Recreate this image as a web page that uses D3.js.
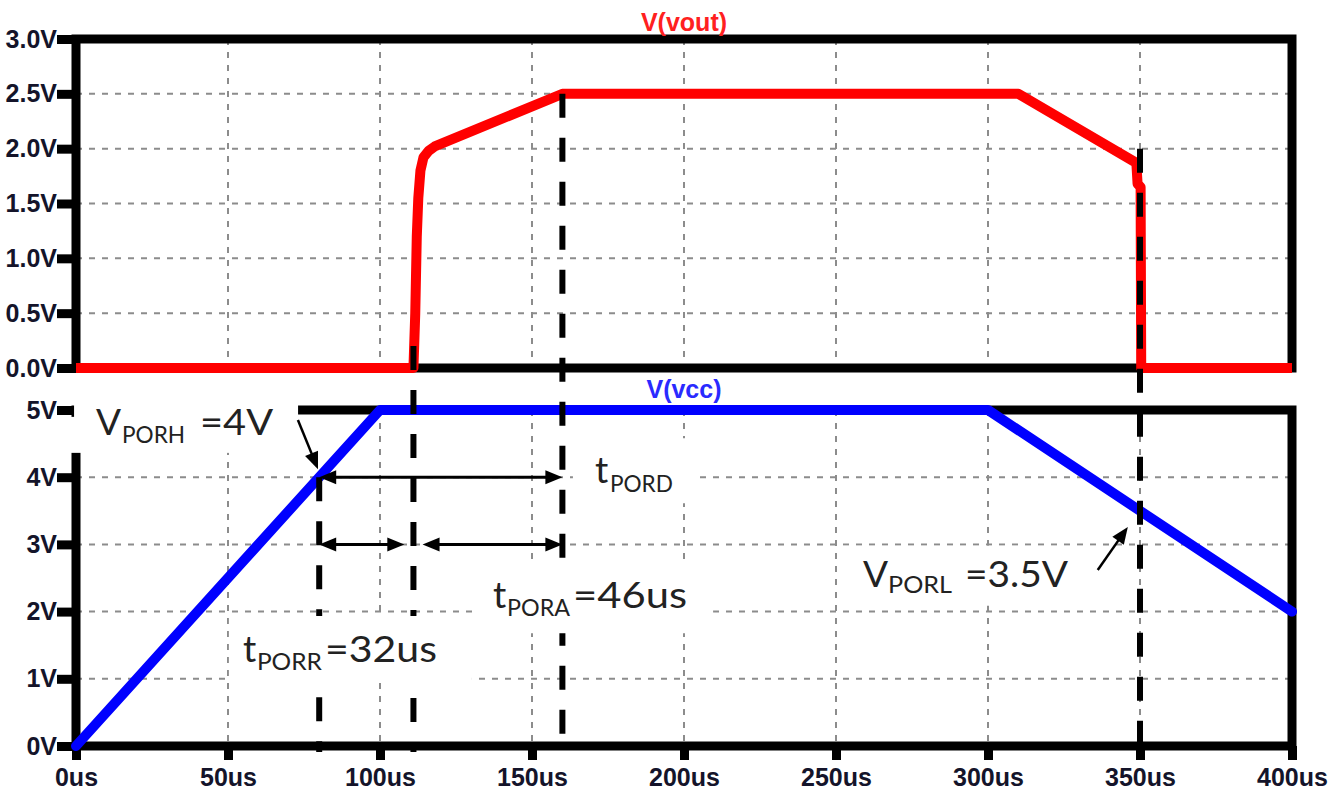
<!DOCTYPE html>
<html>
<head>
<meta charset="utf-8">
<script src="https://cdn.jsdelivr.net/npm/d3@7"></script>
<style>
  html, body { margin: 0; padding: 0; background: #ffffff; }
  svg { display: block; }
</style>
</head>
<body>
<svg id="chart" width="1343" height="795"></svg>
<script>
// ---- axis ticks ----
const timeTicks = [0, 50, 100, 150, 200, 250, 300, 350, 400];   // us
const voutTicks = [0, 0.5, 1, 1.5, 2, 2.5, 3];                   // V
const vccTicks  = [0, 1, 2, 3, 4, 5];                            // V

// ---- V(vout) waveform (time in us, level in V) ----
const voutTime = [0, 111, 111.6, 112.1, 112.6, 113.3, 114.3, 116, 118, 160, 310, 348.8, 349.2, 350.2, 350.4, 400];
const voutVolt = [0, 0,   0.5,   1.2,   1.55,  1.8,   1.92,  1.98, 2.02, 2.5, 2.5, 1.87, 1.68, 1.65, 0,    0];

// ---- V(vcc) supply ramp ----
const vccTime = [0, 100, 300, 400];
const vccVolt = [0, 5,   5,   2];

// ---- timing markers: time, panel where the marker starts, level it starts at ----
const markerTime   = [80,    111,   160,   350];
const markerPanel  = ["vcc", "vout", "vout", "vout"];
const markerLevel  = [4,     0.2,   2.5,   2.0];

// ---- double-headed interval arrows on the V(vcc) panel ----
const spanFrom  = [80, 80,  114];
const spanTo    = [160, 108, 160];
const spanLevel = [4,  3,   3];

// ---- pointer arrows (tail -> tip) on the V(vcc) panel ----
const pointerTail = [[73, 4.85], [336.1, 2.62]];
const pointerTip  = [[79.6, 4.12], [346.0, 3.26]];

// ---- annotation labels: main letter, subscript, value text, anchor (us, V) ----
const labelMain  = ["V",    "t",    "t",     "t",     "V"];
const labelSub   = ["PORH", "PORD", "PORA",  "PORR",  "PORL"];
const labelValue = ["=4V",  "",     "=46us", "=32us", "=3.5V"];
const labelTime  = [6.6,    170.7,  137.2,   54.9,    258.9];
const labelLevel = [4.63,   3.91,   2.05,    1.25,    2.37];

// ---------------------------------------------------------------
const svg = d3.select("#chart");

const x    = d3.scaleLinear().domain([0, 400]).range([76, 1292]);
const yTop = d3.scaleLinear().domain([0, 3]).range([368, 39]);
const yBot = d3.scaleLinear().domain([0, 5]).range([746, 410]);
const yOf  = p => (p === "vout" ? yTop : yBot);

const axisFont = "'Liberation Sans', Arial, sans-serif";
const noteFont = "Lato, 'Noto Sans', sans-serif";

// dashed grid
const grid = svg.append("g")
  .attr("stroke", "#8c8c8c")
  .attr("stroke-width", 2)
  .attr("stroke-dasharray", "6,7")
  .attr("fill", "none");

[[yTop, voutTicks], [yBot, vccTicks]].forEach(([ys, ticks]) => {
  const [lo, hi] = ys.domain();
  grid.selectAll(null)
    .data(timeTicks.slice(1, -1))
    .join("line")
    .attr("x1", d => x(d)).attr("x2", d => x(d))
    .attr("y1", ys(hi)).attr("y2", ys(lo));
  grid.selectAll(null)
    .data(ticks.slice(1, -1))
    .join("line")
    .attr("x1", x(0)).attr("x2", x(400))
    .attr("y1", d => ys(d)).attr("y2", d => ys(d));
});

// panel frames
[yTop, yBot].forEach(ys => {
  const [lo, hi] = ys.domain();
  svg.append("rect")
    .attr("x", x(0)).attr("y", ys(hi))
    .attr("width", x(400) - x(0)).attr("height", ys(lo) - ys(hi))
    .attr("fill", "none").attr("stroke", "#000").attr("stroke-width", 9);
});

function styleAxis(g) {
  g.select(".domain").remove();
  g.selectAll(".tick line").attr("stroke", "#000").attr("stroke-width", 9);
  g.selectAll(".tick text")
    .attr("fill", "#14142a")
    .attr("font-family", axisFont)
    .attr("font-weight", "bold")
    .attr("font-size", 25);
}

svg.append("g")
  .attr("transform", `translate(${x(0)},0)`)
  .call(d3.axisLeft(yTop).tickValues(voutTicks)
    .tickFormat(d => d3.format(".1f")(d) + "V").tickSize(19).tickPadding(0))
  .call(styleAxis);

svg.append("g")
  .attr("transform", `translate(${x(0)},0)`)
  .call(d3.axisLeft(yBot).tickValues(vccTicks)
    .tickFormat(d => d + "V").tickSize(19).tickPadding(0))
  .call(styleAxis);

svg.append("g")
  .attr("transform", `translate(0,${yBot(0)})`)
  .call(d3.axisBottom(x).tickValues(timeTicks)
    .tickFormat(d => d + "us").tickSize(14).tickPadding(8))
  .call(styleAxis);

// trace titles
svg.append("text")
  .attr("x", (x(0) + x(400)) / 2).attr("y", 31)
  .attr("text-anchor", "middle")
  .attr("font-family", axisFont).attr("font-weight", "bold").attr("font-size", 25)
  .attr("fill", "#ff2020").text("V(vout)");
svg.append("text")
  .attr("x", (x(0) + x(400)) / 2).attr("y", 398)
  .attr("text-anchor", "middle")
  .attr("font-family", axisFont).attr("font-weight", "bold").attr("font-size", 25)
  .attr("fill", "#2a2aff").text("V(vcc)");

// traces
const voutData = voutTime.map((t, i) => [t, voutVolt[i]]);
const vccData  = vccTime.map((t, i) => [t, vccVolt[i]]);

svg.append("path")
  .attr("d", d3.line().x(d => x(d[0])).y(d => yTop(d[1]))(voutData))
  .attr("fill", "none").attr("stroke", "#ff0000")
  .attr("stroke-width", 10).attr("stroke-linejoin", "round");

svg.append("path")
  .attr("d", d3.line().x(d => x(d[0])).y(d => yBot(d[1]))(vccData))
  .attr("fill", "none").attr("stroke", "#0000ff")
  .attr("stroke-width", 10).attr("stroke-linejoin", "round").attr("stroke-linecap", "round");

// timing markers
svg.append("g").selectAll("line")
  .data(markerTime.map((t, i) => ({ t, p: markerPanel[i], v: markerLevel[i] })))
  .join("line")
  .attr("x1", d => x(d.t)).attr("x2", d => x(d.t))
  .attr("y1", d => yOf(d.p)(d.v)).attr("y2", yBot(0) + 6)
  .attr("stroke", "#000").attr("stroke-width", 6)
  .attr("stroke-dasharray", "24,20");

// white label boxes + label text
// box extents are offsets (px) from the label anchor
const labelBoxes = [
  [[-26, -18, 228, 36], [-22, -31, 224, 14]],
  [[-22, -45, 125, 65]],
  [[-21, -45, 241, 70]],
  [[-14, -46, 243, 65]],
  [[-23, -41, 257, 60]]
];
const subShift = [[26, 8], [15, 9], [14, 8], [14, 8], [25, 6]];
const subWidth = [63, 63, 63, 65, 64];
const valShift = [104, 0, 80, 82, 102];
const valWidth = [73, 0, 114, 112, 103];

const notes = svg.append("g");
labelMain.forEach((m, i) => {
  const ax = x(labelTime[i]), ay = yBot(labelLevel[i]);
  labelBoxes[i].forEach(b => {
    notes.append("rect")
      .attr("x", ax + b[0]).attr("y", ay + b[1])
      .attr("width", b[2]).attr("height", b[3])
      .attr("fill", "#ffffff");
  });
  const g = notes.append("g").attr("fill", "#222").attr("font-family", noteFont);
  g.append("text").attr("x", ax).attr("y", ay).attr("font-size", 37).text(m);
  g.append("text")
    .attr("x", ax + subShift[i][0]).attr("y", ay + subShift[i][1])
    .attr("font-size", 24)
    .attr("textLength", subWidth[i]).attr("lengthAdjust", "spacingAndGlyphs")
    .text(labelSub[i]);
  if (labelValue[i]) {
    g.append("text")
      .attr("x", ax + valShift[i]).attr("y", ay)
      .attr("font-size", 37)
      .attr("textLength", valWidth[i]).attr("lengthAdjust", "spacingAndGlyphs")
      .text(labelValue[i]);
  }
});

// arrows
const arrows = svg.append("g");
function head(tx, ty, ang) {
  const L = 17, Wd = 7;
  const bx = tx - L * Math.cos(ang), by = ty - L * Math.sin(ang);
  const nx = -Math.sin(ang) * Wd, ny = Math.cos(ang) * Wd;
  arrows.append("polygon")
    .attr("points", `${tx},${ty} ${bx + nx},${by + ny} ${bx - nx},${by - ny}`)
    .attr("fill", "#000");
}
spanFrom.forEach((t0, i) => {
  const x0 = x(t0), x1 = x(spanTo[i]), yy = yBot(spanLevel[i]);
  arrows.append("line")
    .attr("x1", x0 + 6).attr("x2", x1 - 6).attr("y1", yy).attr("y2", yy)
    .attr("stroke", "#000").attr("stroke-width", 3);
  head(x0, yy, Math.PI);
  head(x1, yy, 0);
});
pointerTail.forEach((tail, i) => {
  const x0 = x(tail[0]), y0 = yBot(tail[1]);
  const x1 = x(pointerTip[i][0]), y1 = yBot(pointerTip[i][1]);
  const ang = Math.atan2(y1 - y0, x1 - x0);
  arrows.append("line")
    .attr("x1", x0).attr("y1", y0)
    .attr("x2", x1 - 10 * Math.cos(ang)).attr("y2", y1 - 10 * Math.sin(ang))
    .attr("stroke", "#000").attr("stroke-width", 2.5);
  head(x1, y1, ang);
});
</script>
</body>
</html>
